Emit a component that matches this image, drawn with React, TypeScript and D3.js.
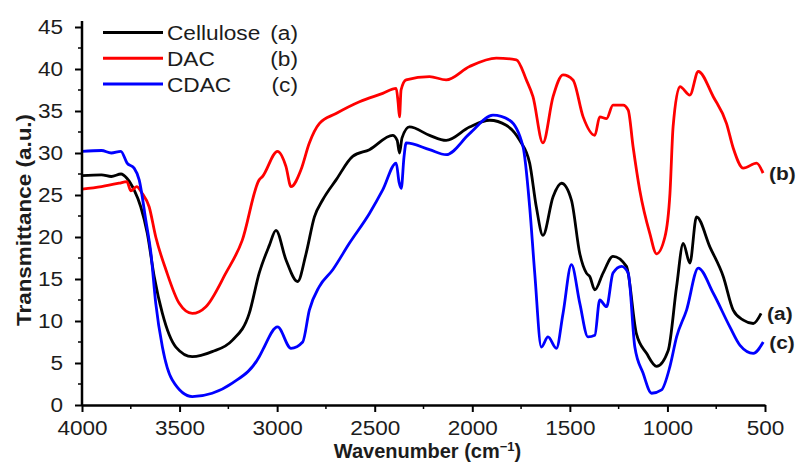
import { useEffect, useRef } from "react";
import * as d3 from "d3";

// [wavenumber (cm-1), transmittance]
const cellulose: [number, number][] = [
  [4000, 27.3], [3900, 27.4], [3850, 27.2], [3800, 27.5], [3770, 27.0],
  [3733, 25.6], [3699, 23.6], [3666, 20.5], [3630, 15.3], [3588, 10.9],
  [3519, 6.9], [3435, 5.75], [3333, 6.35], [3230, 7.7], [3143, 10.9],
  [3092, 15.7], [3040, 19.0], [3006, 20.8], [2955, 17.3], [2895, 14.7],
  [2852, 18.0], [2809, 22.4], [2767, 24.4], [2698, 26.8], [2613, 29.6],
  [2527, 30.4], [2408, 32.1], [2385, 31.5], [2373, 30.0], [2360, 31.8],
  [2322, 33.1], [2219, 32.1], [2134, 31.5], [2014, 33.1], [1911, 33.9],
  [1826, 33.3], [1757, 31.5], [1706, 28.8], [1672, 23.6], [1638, 20.2],
  [1586, 24.8], [1543, 26.4], [1492, 24.4], [1449, 18.0], [1415, 15.7],
  [1398, 15.3], [1372, 13.7], [1330, 15.7], [1279, 17.7], [1210, 16.5],
  [1159, 8.5], [1107, 6.15], [1056, 4.6], [996, 6.5], [953, 14.1],
  [919, 19.25], [885, 16.9], [851, 22.4], [782, 18.8], [714, 15.3],
  [663, 11.3], [611, 10.1], [560, 9.7], [520, 10.9],
];

const dac: [number, number][] = [
  [4000, 25.7], [3900, 26.0], [3810, 26.4], [3770, 26.6], [3750, 25.5],
  [3720, 26.0], [3692, 25.2], [3656, 23.6], [3622, 20.0], [3570, 16.1],
  [3502, 12.1], [3435, 10.9], [3365, 11.7], [3263, 15.7], [3179, 19.6],
  [3092, 26.8], [3075, 27.2], [2998, 30.2], [2955, 28.4], [2929, 26.0],
  [2878, 28.0], [2835, 31.2], [2784, 33.5], [2698, 34.7], [2578, 36.1],
  [2459, 37.1], [2390, 37.7], [2380, 36.0], [2373, 34.3], [2365, 37.5],
  [2339, 38.7], [2219, 39.1], [2134, 38.7], [2014, 40.3], [1877, 41.3],
  [1774, 41.1], [1723, 38.7], [1689, 36.7], [1638, 31.2], [1586, 36.7],
  [1535, 39.3], [1484, 38.7], [1432, 34.3], [1372, 32.1], [1347, 34.3],
  [1312, 34.1], [1279, 35.7], [1227, 35.7], [1201, 35.1], [1176, 30.75],
  [1142, 25.6], [1090, 20.4], [1056, 18.0], [1013, 20.0], [987, 25.2],
  [971, 33.1], [936, 37.9], [885, 36.9], [842, 39.7], [765, 36.7],
  [697, 33.5], [663, 30.6], [611, 28.2], [543, 28.8], [510, 27.6],
];

const cdac: [number, number][] = [
  [4000, 30.2], [3900, 30.3], [3850, 30.0], [3801, 30.2], [3769, 28.8],
  [3733, 28.2], [3707, 26.8], [3673, 22.0], [3647, 18.1], [3622, 12.1],
  [3588, 6.9], [3538, 3.0], [3435, 1.0], [3333, 1.4], [3230, 2.6],
  [3092, 5.75], [3075, 6.5], [2998, 9.3], [2929, 6.75], [2869, 7.5],
  [2835, 11.3], [2784, 14.1], [2715, 16.1], [2630, 19.25], [2527, 22.8],
  [2459, 25.6], [2390, 28.8], [2375, 26.5], [2364, 25.8], [2350, 29.5],
  [2339, 31.2], [2219, 30.4], [2134, 29.8], [2014, 32.3], [1894, 34.5],
  [1809, 33.9], [1740, 30.75], [1706, 23.6], [1680, 15.7], [1646, 6.9],
  [1612, 8.1], [1569, 6.75], [1535, 10.9], [1492, 16.7], [1449, 12.1],
  [1407, 8.1], [1372, 8.3], [1347, 12.5], [1312, 11.7], [1279, 15.7],
  [1235, 16.5], [1201, 15.7], [1167, 6.9], [1125, 3.8], [1081, 1.4],
  [1030, 1.8], [987, 4.6], [953, 8.1], [902, 11.3], [842, 16.3],
  [765, 13.3], [680, 9.3], [628, 7.1], [560, 6.15], [509, 7.5],
];

const seriesNames = ["Cellulose", "DAC", "CDAC"];
const seriesTags = ["(a)", "(b)", "(c)"];
const seriesColors = ["#000000", "#ff0000", "#0000ff"];
const xTicks = [4000, 3500, 3000, 2500, 2000, 1500, 1000, 500];
const yTicks = [0, 5, 10, 15, 20, 25, 30, 35, 40, 45];

const FONT = "'Liberation Sans', Arial, sans-serif";
const TEXT = "#1c1c1c";
// the source figure's text is a little wider than Arial
const STRETCH = 1.1;

export default function App() {
  const ref = useRef<HTMLDivElement>(null);

  useEffect(() => {
    const container = d3.select(ref.current);
    container.selectAll("*").remove();

    const width = 800;
    const height = 462;
    const margin = { top: 27, right: 35, bottom: 57, left: 82 };

    const svg = container
      .append("svg")
      .attr("width", width)
      .attr("height", height)
      .style("display", "block")
      .style("font-family", FONT);

    svg.append("rect").attr("width", width).attr("height", height).attr("fill", "#fff");

    const x = d3.scaleLinear().domain([4000, 500]).range([margin.left, width - margin.right]);
    const y = d3.scaleLinear().domain([0, 45]).range([height - margin.bottom, margin.top]);

    const series = [cellulose, dac, cdac];

    const line = d3
      .line<[number, number]>()
      .x((d) => x(d[0]))
      .y((d) => y(d[1]))
      .curve(d3.curveMonotoneX);

    series.forEach((s, i) => {
      svg
        .append("path")
        .datum(s)
        .attr("d", line)
        .attr("fill", "none")
        .attr("stroke", seriesColors[i])
        .attr("stroke-width", 2.8)
        .attr("stroke-linejoin", "round");
    });

    const yMinor = d3.range(2.5, 45, 5);
    const xMinor = d3.range(3750, 500, -500);

    const yAxis = svg
      .append("g")
      .attr("transform", `translate(${margin.left},0)`)
      .call(
        d3.axisLeft(y).tickValues(yTicks).tickFormat(d3.format("d")).tickSize(7).tickPadding(12).tickSizeOuter(0)
      );
    yAxis.select(".domain").attr("stroke-width", 2.5).attr("d", `M0,${y(45) - 6}V${y(0)}`);
    yAxis.selectAll(".tick line").attr("stroke-width", 2);
    yAxis
      .selectAll("text")
      .attr("font-size", 20.5)
      .attr("fill", TEXT)
      .attr("font-family", FONT)
      .attr("x", -19 / STRETCH)
      .attr("transform", `scale(${STRETCH},1)`);

    svg
      .append("g")
      .selectAll("line")
      .data(yMinor)
      .join("line")
      .attr("x1", margin.left - 4)
      .attr("x2", margin.left)
      .attr("y1", (d) => y(d))
      .attr("y2", (d) => y(d))
      .attr("stroke", "#000")
      .attr("stroke-width", 1.5);

    const xAxis = svg
      .append("g")
      .attr("transform", `translate(0,${y(0)})`)
      .call(
        d3.axisBottom(x).tickValues(xTicks).tickFormat(d3.format("d")).tickSize(7).tickPadding(8).tickSizeOuter(0)
      );
    xAxis.select(".domain").attr("stroke-width", 2.5);
    xAxis.selectAll(".tick line").attr("stroke-width", 2);
    xAxis
      .selectAll("text")
      .attr("font-size", 20.5)
      .attr("fill", TEXT)
      .attr("font-family", FONT)
      .attr("transform", `scale(${STRETCH},1)`);

    svg
      .append("g")
      .selectAll("line")
      .data(xMinor)
      .join("line")
      .attr("x1", (d) => x(d))
      .attr("x2", (d) => x(d))
      .attr("y1", y(0))
      .attr("y2", y(0) + 4)
      .attr("stroke", "#000")
      .attr("stroke-width", 1.5);

    // axis titles
    svg
      .append("text")
      .attr("x", (margin.left + width - margin.right) / 2 + 4)
      .attr("y", 457.5)
      .attr("text-anchor", "middle")
      .attr("font-size", 20)
      .attr("font-weight", "bold")
      .attr("fill", TEXT)
      .html('Wavenumber (cm<tspan dy="-7" font-size="13">−1</tspan><tspan dy="7">)</tspan>');

    svg
      .append("text")
      .attr("transform", `translate(31,${(y(0) + y(45)) / 2 + 4}) rotate(-90) scale(1.07,1)`)
      .attr("text-anchor", "middle")
      .attr("font-size", 21)
      .attr("font-weight", "bold")
      .attr("fill", TEXT)
      .text("Transmittance (a.u.)");

    // legend
    const legend = svg.append("g");
    seriesNames.forEach((name, i) => {
      const ly = 32.5 + i * 25.8;
      legend
        .append("line")
        .attr("x1", 103)
        .attr("x2", 163)
        .attr("y1", ly)
        .attr("y2", ly)
        .attr("stroke", seriesColors[i])
        .attr("stroke-width", 3);
      legend
        .append("text")
        .attr("transform", `translate(167,${ly + 7.5}) scale(1.08,1)`)
        .attr("font-size", 21)
        .attr("fill", TEXT)
        .text(name);
      legend
        .append("text")
        .attr("transform", `translate(298,${ly + 7.5}) scale(1.08,1)`)
        .attr("text-anchor", "end")
        .attr("font-size", 21)
        .attr("fill", TEXT)
        .text(seriesTags[i]);
    });

    // end-of-curve tags
    series.forEach((s, i) => {
      const last = s[s.length - 1];
      svg
        .append("text")
        .attr("transform", `translate(${x(last[0]) + 6},${y(last[1]) + 7}) scale(${STRETCH},1)`)
        .attr("font-size", 19)
        .attr("font-weight", "bold")
        .attr("fill", TEXT)
        .text(seriesTags[i]);
    });
  }, []);

  return <div ref={ref} style={{ position: "absolute", left: 0, top: 0 }} />;
}
